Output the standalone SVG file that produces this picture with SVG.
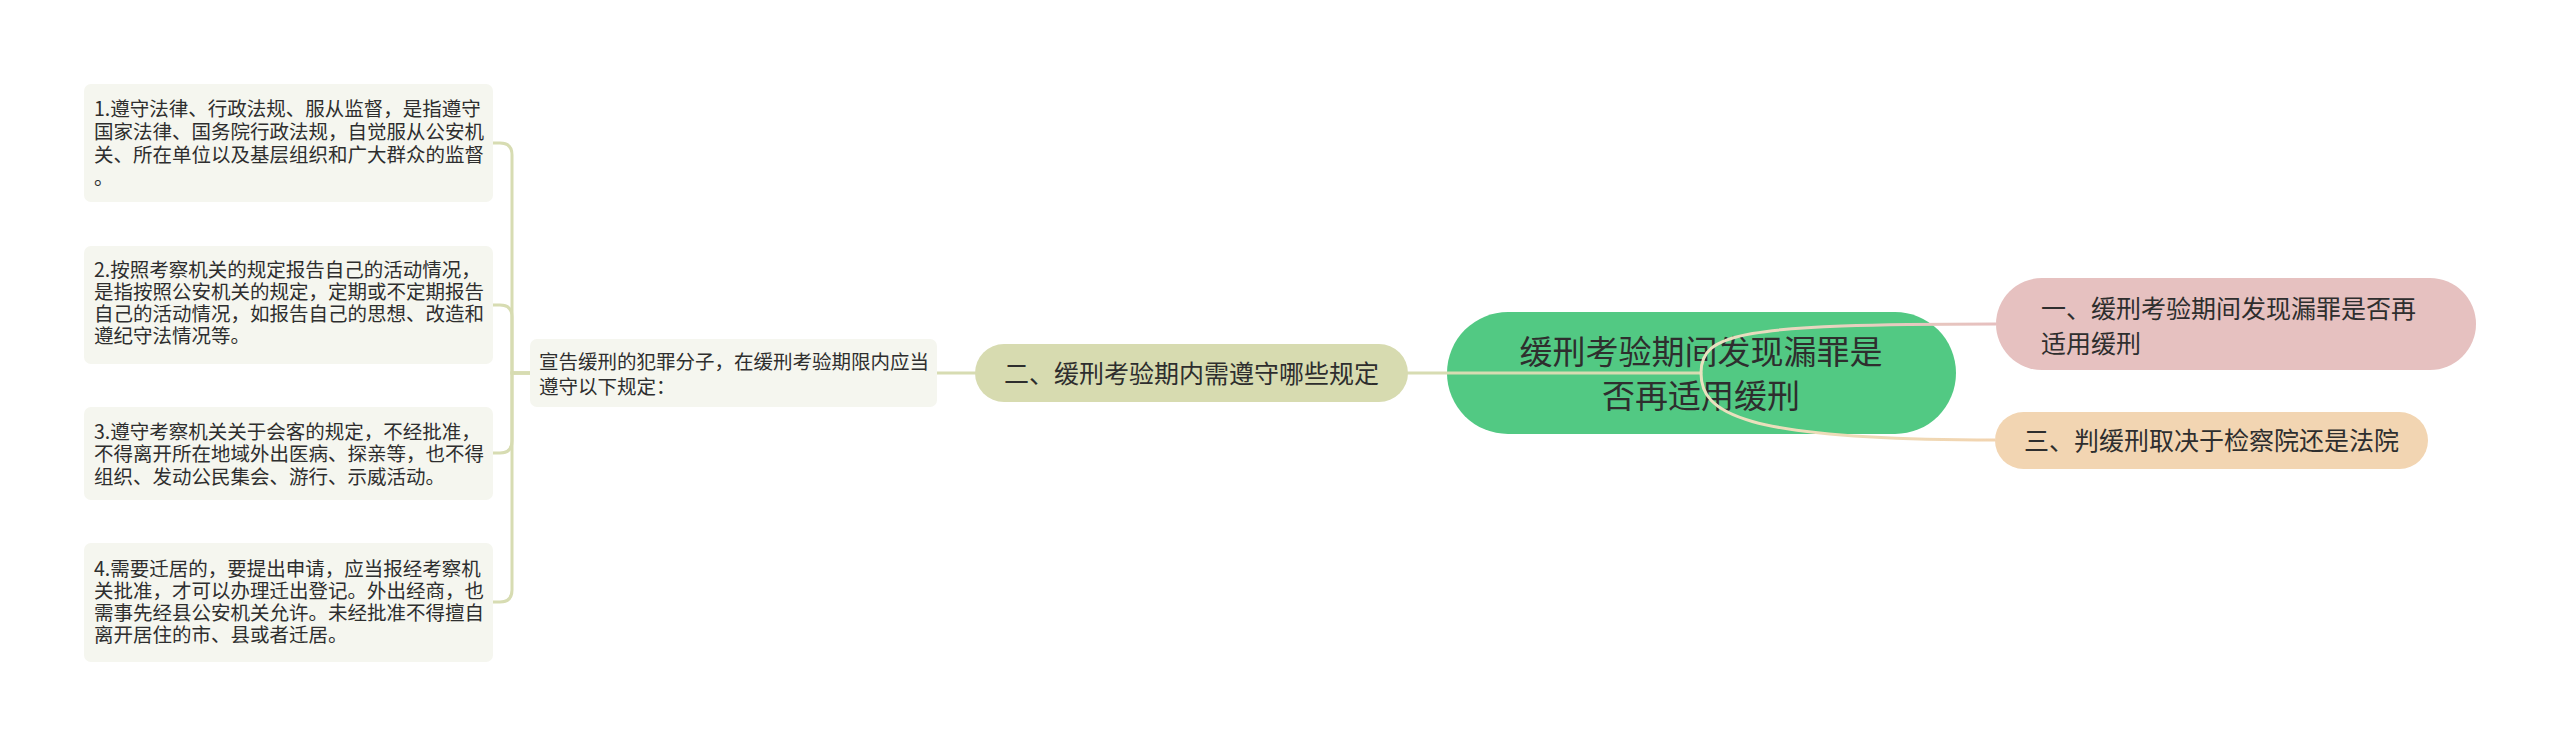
<svg xmlns="http://www.w3.org/2000/svg" width="2560" height="747" viewBox="0 0 2560 747">
<style>
text{font-family:"Noto Sans CJK SC","Noto Sans",sans-serif;fill:#2e2e2e}
.s{font-size:19.5px}
.m{font-size:25px}
.box{fill:#f5f6ef}
.ln{fill:none;stroke:#d7dcb2;stroke-width:3;stroke-linecap:round}
</style>
<defs>
<linearGradient id="gp" gradientUnits="userSpaceOnUse" x1="1701" y1="0" x2="1996" y2="0">
<stop offset="0" stop-color="#e9e2bf"/><stop offset="1" stop-color="#e6bfbf"/>
</linearGradient>
<linearGradient id="go" gradientUnits="userSpaceOnUse" x1="1701" y1="0" x2="1996" y2="0">
<stop offset="0" stop-color="#e9e2bf"/><stop offset="1" stop-color="#f2d4b0"/>
</linearGradient>
</defs>
<rect width="2560" height="747" fill="#ffffff"/>

<g id="main">
<rect x="1447" y="312" width="509" height="122" rx="61" fill="#52c983"/>
<text x="1701" y="363.5" font-size="33" text-anchor="middle">缓刑考验期间发现漏罪是</text>
<text x="1701" y="407.5" font-size="33" text-anchor="middle">否再适用缓刑</text>
</g>

<g id="connectors">
<path class="ln" d="M1701,373 H1408"/>
<path class="ln" d="M975,373 H937"/>
<path class="ln" d="M530,373 H512 V155 Q512,143 500,143 H493"/>
<path class="ln" d="M530,373 H512 V317 Q512,305 500,305 H493"/>
<path class="ln" d="M530,373 H512 V441 Q512,453 500,453 H493"/>
<path class="ln" d="M530,373 H512 V590 Q512,602 500,602 H493"/>
<path d="M1701,373 C1701,333 1740,324 1996,324" fill="none" stroke="url(#gp)" stroke-width="3"/>
<path d="M1701,373 C1701,413 1740,440 1995,440" fill="none" stroke="url(#go)" stroke-width="3"/>
</g>

<g id="n-two">
<rect x="975" y="344" width="433" height="58" rx="29" fill="#d7dbb0"/>
<text class="m" x="1191.5" y="382.5" text-anchor="middle">二、缓刑考验期内需遵守哪些规定</text>
</g>

<g id="n-mid">
<rect class="box" x="530" y="339" width="407" height="68" rx="7"/>
<text class="s" x="539" y="368.5">宣告缓刑的犯罪分子，在缓刑考验期限内应当</text>
<text class="s" x="539" y="393.5">遵守以下规定：</text>
</g>

<g id="n-l1">
<rect class="box" x="84" y="84" width="409" height="118" rx="7"/>
<text class="s" x="94" y="116">1.遵守法律、行政法规、服从监督，是指遵守</text>
<text class="s" x="94" y="139">国家法律、国务院行政法规，自觉服从公安机</text>
<text class="s" x="94" y="162">关、所在单位以及基层组织和广大群众的监督</text>
<text class="s" x="94" y="185">。</text>
</g>

<g id="n-l2">
<rect class="box" x="84" y="246" width="409" height="118" rx="7"/>
<text class="s" x="94" y="277">2.按照考察机关的规定报告自己的活动情况，</text>
<text class="s" x="94" y="299">是指按照公安机关的规定，定期或不定期报告</text>
<text class="s" x="94" y="321">自己的活动情况，如报告自己的思想、改造和</text>
<text class="s" x="94" y="343">遵纪守法情况等。</text>
</g>

<g id="n-l3">
<rect class="box" x="84" y="407" width="409" height="93" rx="7"/>
<text class="s" x="94" y="438.5">3.遵守考察机关关于会客的规定，不经批准，</text>
<text class="s" x="94" y="461">不得离开所在地域外出医病、探亲等，也不得</text>
<text class="s" x="94" y="483.5">组织、发动公民集会、游行、示威活动。</text>
</g>

<g id="n-l4">
<rect class="box" x="84" y="543" width="409" height="119" rx="7"/>
<text class="s" x="94" y="576">4.需要迁居的，要提出申请，应当报经考察机</text>
<text class="s" x="94" y="598">关批准，才可以办理迁出登记。外出经商，也</text>
<text class="s" x="94" y="620">需事先经县公安机关允许。未经批准不得擅自</text>
<text class="s" x="94" y="641.5">离开居住的市、县或者迁居。</text>
</g>

<g id="n-one">
<rect x="1996" y="278" width="480" height="92" rx="46" fill="#e6c1c0"/>
<text class="m" x="2041" y="317.5">一、缓刑考验期间发现漏罪是否再</text>
<text class="m" x="2041" y="352.5">适用缓刑</text>
</g>

<g id="n-three">
<rect x="1995" y="412" width="433" height="57" rx="28.5" fill="#f2d5b2"/>
<text class="m" x="2211.5" y="449.5" text-anchor="middle">三、判缓刑取决于检察院还是法院</text>
</g>
</svg>
